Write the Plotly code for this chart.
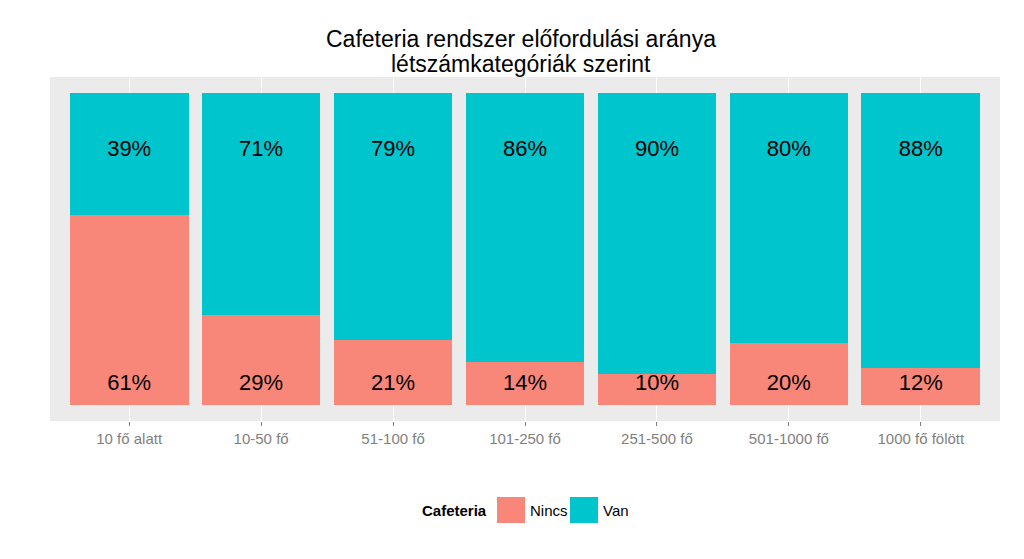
import plotly.graph_objects as go

categories = ["10 fő alatt", "10-50 fő", "51-100 fő", "101-250 fő", "251-500 fő", "501-1000 fő", "1000 fő fölött"]
nincs = [61, 29, 21, 14, 10, 20, 12]
van = [39, 71, 79, 86, 90, 80, 88]
title_lines = ["Cafeteria rendszer előfordulási aránya", "létszámkategóriák szerint"]

C_NINCS = "#F8877A"
C_VAN = "#00C5CD"
FONT = "Liberation Sans, Arial"

fig = go.Figure()
fig.add_trace(go.Bar(x=categories, y=[v / 100 for v in nincs], name="Nincs",
                     marker=dict(color=C_NINCS, line=dict(width=0)), width=0.9,
                     hoverinfo="skip"))
fig.add_trace(go.Bar(x=categories, y=[v / 100 for v in van], name="Van",
                     marker=dict(color=C_VAN, line=dict(width=0)), width=0.9,
                     hoverinfo="skip"))

# percentage labels
fig.add_trace(go.Scatter(x=categories, y=[0.066] * len(categories), mode="text",
                         text=[f"{v}%" for v in nincs], textposition="middle center",
                         textfont=dict(size=22, color="black", family=FONT),
                         showlegend=False, hoverinfo="skip"))
fig.add_trace(go.Scatter(x=categories, y=[0.815] * len(categories), mode="text",
                         text=[f"{v}%" for v in van], textposition="middle center",
                         textfont=dict(size=22, color="black", family=FONT),
                         showlegend=False, hoverinfo="skip"))

def px(X):
    return (X - 50) / 950

def py(Y):
    return (421 - Y) / 344

shapes = [
    dict(type="rect", xref="paper", yref="paper", x0=px(497), x1=px(525), y0=py(523), y1=py(497),
         fillcolor=C_NINCS, line=dict(width=0)),
    dict(type="rect", xref="paper", yref="paper", x0=px(570), x1=px(598), y0=py(523), y1=py(497),
         fillcolor=C_VAN, line=dict(width=0)),
]
annotations = [
    dict(text="<b>Cafeteria</b>", xref="paper", yref="paper", x=px(489), y=py(510),
         xanchor="right", yanchor="middle", showarrow=False, font=dict(size=15, color="black", family=FONT)),
    dict(text="Nincs", xref="paper", yref="paper", x=px(528), y=py(510),
         xanchor="left", yanchor="middle", showarrow=False, font=dict(size=15, color="black", family=FONT)),
    dict(text="Van", xref="paper", yref="paper", x=px(601), y=py(510),
         xanchor="left", yanchor="middle", showarrow=False, font=dict(size=15, color="black", family=FONT)),
    dict(text=title_lines[0], xref="paper", yref="paper", x=px(521), y=py(39),
         xanchor="center", yanchor="middle", showarrow=False, font=dict(size=23, color="black", family=FONT)),
    dict(text=title_lines[1], xref="paper", yref="paper", x=px(521), y=py(64),
         xanchor="center", yanchor="middle", showarrow=False, font=dict(size=23, color="black", family=FONT)),
]

fig.update_layout(
    barmode="stack",
    width=1024, height=559,
    margin=dict(l=50, r=24, t=77, b=138),
    paper_bgcolor="white",
    plot_bgcolor="#EBEBEB",
    font=dict(family=FONT, color="black"),
    showlegend=False,
    shapes=shapes,
    annotations=annotations,
    bargap=0.1,
)
fig.update_xaxes(range=[-0.6, 6.6], showgrid=True, gridcolor="white", gridwidth=1,
                 ticks="outside", ticklen=4, tickcolor="#7F7F7F", tickwidth=1,
                 tickfont=dict(size=15, color="#7F7F7F"), zeroline=False, showline=False)
fig.update_yaxes(range=[-0.05, 1.05], showgrid=False, showticklabels=False, zeroline=False,
                 showline=False, ticks="")

fig.write_html("out.html")
